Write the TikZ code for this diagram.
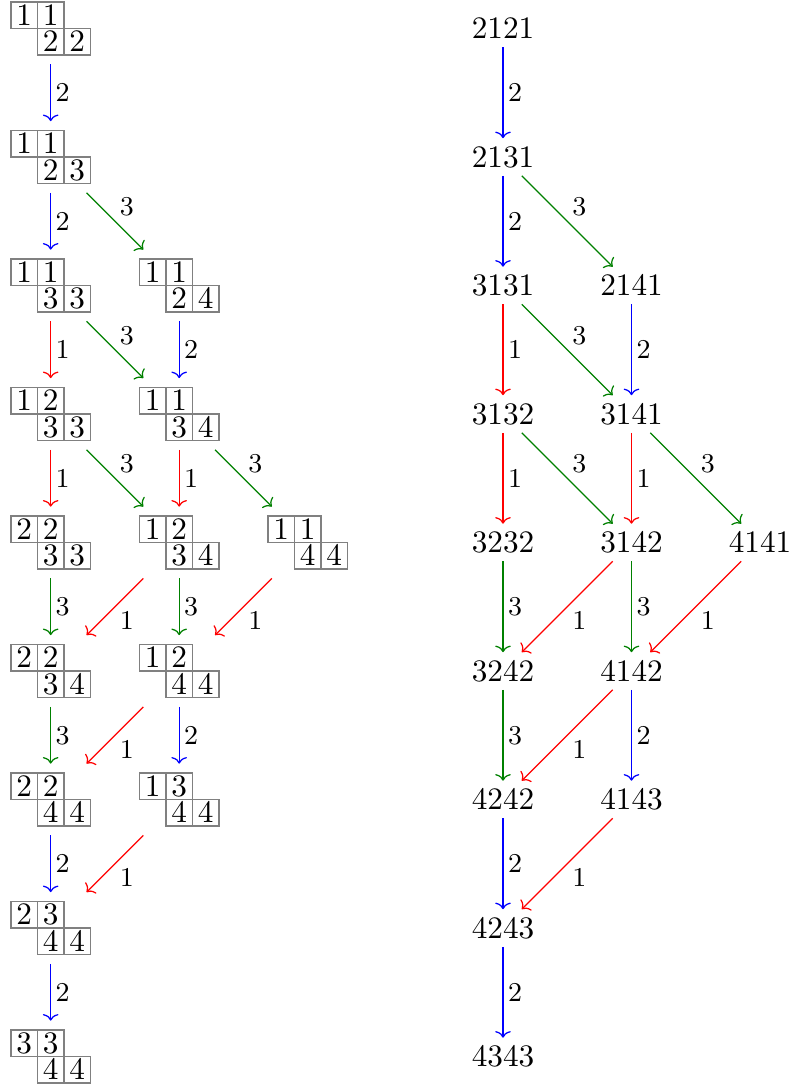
\documentclass[tikz,border=0pt]{standalone}
\usetikzlibrary{arrows.meta,fit}
\definecolor{cA}{rgb}{1,0,0}
\definecolor{cB}{rgb}{0,0,1}
\definecolor{cC}{rgb}{0,0.5,0}
\tikzset{
  cell/.style={draw=black!50, line width=0.4pt, minimum size=8.48pt, inner sep=0pt, text height=6.44pt, text depth=0pt},
  fitbox/.style={inner xsep=2.6pt, inner ysep=2.6pt},
  num/.style={inner xsep=2pt, inner ysep=2.6pt, text height=6.44pt, text depth=0pt},
  arr/.style={-{Computer Modern Rightarrow[width=5pt,length=2.1pt]}, line width=0.4pt},
  lab/.style={auto, font=\fontsize{8.7}{10}\selectfont, inner sep=1.4pt, text=black},
}
\newcommand\ytab[7]{%
  \node[cell] (#1a) at ({#2-26.5},{#3-13.25}) {#4};
  \node[cell] (#1b) at ({#2},{#3-13.25}) {#5};
  \node[cell] (#1c) at ({#2},{#3+13.25}) {#6};
  \node[cell] (#1d) at ({#2+26.5},{#3+13.25}) {#7};
  \node[fitbox, fit=(#1a)(#1d)] (#1) {};
}
\newcommand\twin[3]{%
  \draw[arr, c#3] (L#1) -- node[lab]{\csname lab#3\endcsname} (L#2);
  \draw[arr, c#3] (R#1) -- node[lab]{\csname lab#3\endcsname} (R#2);
}
\def\labA{1}\def\labB{2}\def\labC{3}
\begin{document}
\begin{tikzpicture}[x=0.32pt, y=-0.32pt]
\useasboundingbox (0,0) rectangle (791,1086);
% left tableaux
\ytab{L00}{50.7}{28.5}{1}{1}{2}{2}
\ytab{L10}{50.7}{157}{1}{1}{2}{3}
\ytab{L20}{50.7}{285.5}{1}{1}{3}{3}
\ytab{L21}{179.2}{285.5}{1}{1}{2}{4}
\ytab{L30}{50.7}{414}{1}{2}{3}{3}
\ytab{L31}{179.2}{414}{1}{1}{3}{4}
\ytab{L40}{50.7}{542.5}{2}{2}{3}{3}
\ytab{L41}{179.2}{542.5}{1}{2}{3}{4}
\ytab{L42}{307.7}{542.5}{1}{1}{4}{4}
\ytab{L50}{50.7}{671}{2}{2}{3}{4}
\ytab{L51}{179.2}{671}{1}{2}{4}{4}
\ytab{L60}{50.7}{799.5}{2}{2}{4}{4}
\ytab{L61}{179.2}{799.5}{1}{3}{4}{4}
\ytab{L70}{50.7}{928}{2}{3}{4}{4}
\ytab{L80}{50.7}{1056.5}{3}{3}{4}{4}
% right words
\node[num] (R00) at (503,28.5) {2121};
\node[num] (R10) at (503,157) {2131};
\node[num] (R20) at (503,285.5) {3131};
\node[num] (R21) at (631.5,285.5) {2141};
\node[num] (R30) at (503,414) {3132};
\node[num] (R31) at (631.5,414) {3141};
\node[num] (R40) at (503,542.5) {3232};
\node[num] (R41) at (631.5,542.5) {3142};
\node[num] (R42) at (760,542.5) {4141};
\node[num] (R50) at (503,671) {3242};
\node[num] (R51) at (631.5,671) {4142};
\node[num] (R60) at (503,799.5) {4242};
\node[num] (R61) at (631.5,799.5) {4143};
\node[num] (R70) at (503,928) {4243};
\node[num] (R80) at (503,1056.5) {4343};
% arrows
\twin{00}{10}{B}
\twin{10}{20}{B}
\twin{10}{21}{C}
\twin{20}{30}{A}
\twin{20}{31}{C}
\twin{21}{31}{B}
\twin{30}{40}{A}
\twin{30}{41}{C}
\twin{31}{41}{A}
\twin{31}{42}{C}
\twin{40}{50}{C}
\twin{41}{50}{A}
\twin{41}{51}{C}
\twin{42}{51}{A}
\twin{50}{60}{C}
\twin{51}{60}{A}
\twin{51}{61}{B}
\twin{60}{70}{B}
\twin{61}{70}{A}
\twin{70}{80}{B}
\end{tikzpicture}
\end{document}
